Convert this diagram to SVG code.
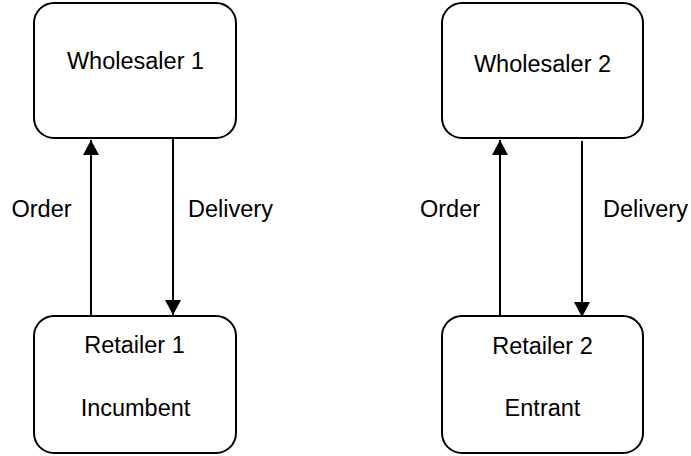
<svg xmlns="http://www.w3.org/2000/svg" width="691" height="456" viewBox="0 0 691 456">
<defs>
<style>
.box{fill:#fff;stroke:#000;stroke-width:2}
.t{font-family:"Liberation Sans",Arial,sans-serif;font-size:23.5px;fill:#000}
.c{text-anchor:middle}
.ln{stroke:#000;stroke-width:2;fill:none}
</style>
<marker id="ah" markerUnits="userSpaceOnUse" markerWidth="16" markerHeight="16" viewBox="0 0 16 16" refX="15" refY="8" orient="auto">
<path d="M0,0 L15,8 L0,16 Z" fill="#000"/>
</marker>
</defs>
<rect width="691" height="456" fill="#fff"/>
<g id="connectors">
<line class="ln" x1="91" y1="316" x2="91" y2="140" marker-end="url(#ah)"/>
<line class="ln" x1="173" y1="138" x2="173" y2="315" marker-end="url(#ah)"/>
<line class="ln" x1="500" y1="316" x2="500" y2="140" marker-end="url(#ah)"/>
<line class="ln" x1="582" y1="141" x2="582" y2="317" marker-end="url(#ah)"/>
<text class="t" x="11.5" y="216.5">Order</text>
<text class="t" x="188" y="216.5">Delivery</text>
<text class="t" x="420" y="216.5">Order</text>
<text class="t" x="603" y="216.5">Delivery</text>
</g>
<g id="wholesaler1">
<rect class="box" x="34" y="3" width="202" height="135" rx="20"/>
<text class="t c" x="135.5" y="69">Wholesaler 1</text>
</g>
<g id="wholesaler2">
<rect class="box" x="442" y="3" width="201" height="135" rx="20"/>
<text class="t c" x="542.5" y="71.5">Wholesaler 2</text>
</g>
<g id="retailer1">
<rect class="box" x="34" y="316" width="202" height="137" rx="20"/>
<text class="t c" x="134.5" y="353">Retailer 1</text>
<text class="t c" x="135.5" y="415.5">Incumbent</text>
</g>
<g id="retailer2">
<rect class="box" x="442" y="316" width="201" height="137" rx="20"/>
<text class="t c" x="542.5" y="354">Retailer 2</text>
<text class="t c" x="542.5" y="415.5">Entrant</text>
</g>
</svg>
